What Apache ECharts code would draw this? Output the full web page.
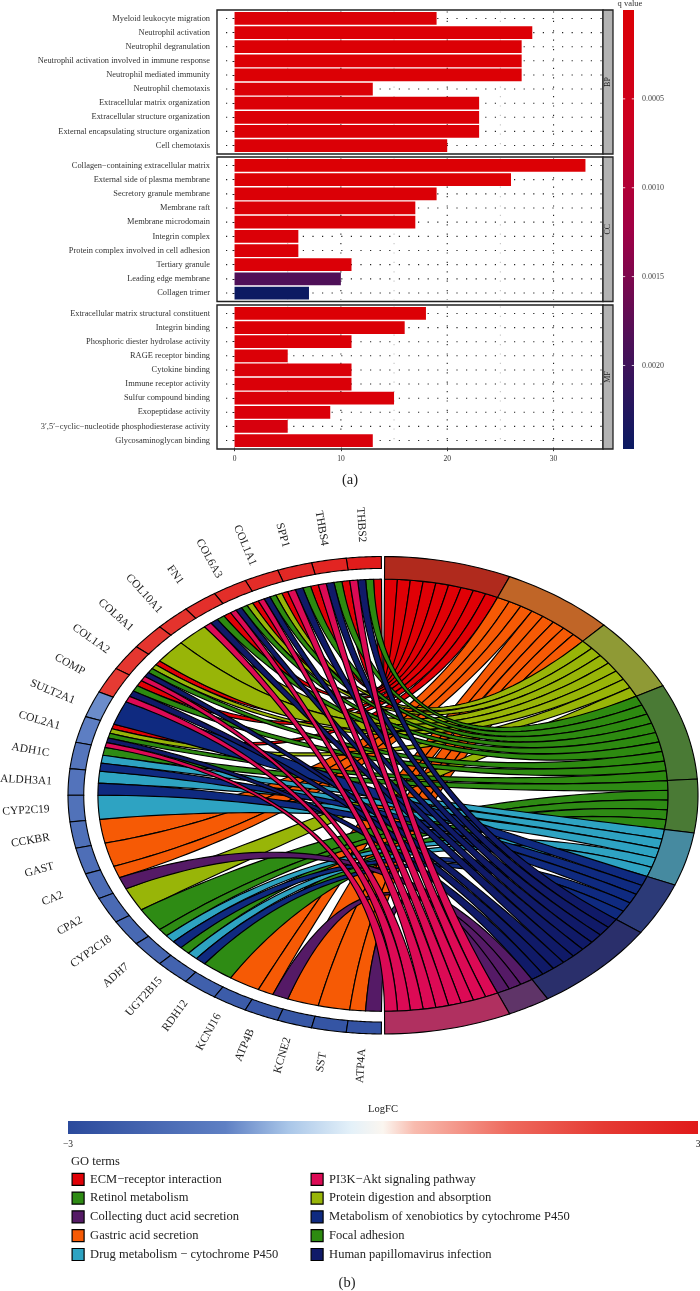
<!DOCTYPE html>
<html><head><meta charset="utf-8">
<style>html,body{margin:0;padding:0;background:#fff}#c{width:700px;height:1291px}</style>
<script src="https://cdn.jsdelivr.net/npm/echarts@6/dist/echarts.min.js"></script>
</head><body><div id="c"></div>
<script>
// ---------- panel (a) data ----------
const bpTerms = ['Myeloid leukocyte migration','Neutrophil activation','Neutrophil degranulation','Neutrophil activation involved in immune response','Neutrophil mediated immunity','Neutrophil chemotaxis','Extracellular matrix organization','Extracellular structure organization','External encapsulating structure organization','Cell chemotaxis'];
const bpCounts = [19,28,27,27,27,13,23,23,23,20];
const bpQ = [0.00002,0.00001,0.00001,0.00001,0.00001,0.00002,0.00002,0.00002,0.00002,0.00003];
const ccTerms = ['Collagen\u2212containing extracellular matrix','External side of plasma membrane','Secretory granule membrane','Membrane raft','Membrane microdomain','Integrin complex','Protein complex involved in cell adhesion','Tertiary granule','Leading edge membrane','Collagen trimer'];
const ccCounts = [33,26,19,17,17,6,6,11,10,7];
const ccQ = [0.00001,0.00001,0.00002,0.00003,0.00003,0.00004,0.00004,0.00005,0.00185,0.00245];
const mfTerms = ['Extracellular matrix structural constituent','Integrin binding','Phosphoric diester hydrolase activity','RAGE receptor binding','Cytokine binding','Immune receptor activity','Sulfur compound binding','Exopeptidase activity','3\u2032,5\u2032\u2212cyclic\u2212nucleotide phosphodiesterase activity','Glycosaminoglycan binding'];
const mfCounts = [18,16,11,5,11,11,15,9,5,13];
const mfQ = [0.00001,0.00002,0.00004,0.00005,0.00006,0.00006,0.00006,0.00008,0.0002,0.00012];
const strips = ['BP','CC','MF'];
const xTicks = [0,10,20,30];
const xMinor = [5,15,25];
const qTicks = [0.0005,0.0010,0.0015,0.0020];
const qColors = ['#dc0005','#cc001f','#a00045','#4f1058','#0a1a62'];

// ---------- panel (b) data ----------
const genes = ['THBS2','THBS4','SPP1','COL1A1','COL6A3','FN1','COL10A1','COL8A1','COL1A2','COMP','SULT2A1','COL2A1','ADH1C','ALDH3A1','CYP2C19','CCKBR','GAST','CA2','CPA2','CYP2C18','ADH7','UGT2B15','RDH12','KCNJ16','ATP4B','KCNE2','SST','ATP4A'];
const logFC = [2.95,2.7,2.6,2.5,2.45,2.4,2.3,2.25,2.2,2.1,-1.4,-1.55,-1.8,-1.85,-1.9,-1.95,-2.0,-2.05,-2.1,-2.15,-2.2,-2.3,-2.4,-2.5,-2.6,-2.65,-2.7,-2.75];
const terms = ['ECM\u2212receptor interaction','Gastric acid secretion','Protein digestion and absorption','Focal adhesion','Retinol metabolism','Drug metabolism \u2212 cytochrome P450','Metabolism of xenobiotics by cytochrome P450','Human papillomavirus infection','Collecting duct acid secretion','PI3K\u2212Akt signaling pathway'];
const termColors = ['#e00006','#f65a05','#98b508','#2d8a10','#2e8b14','#2ea3c2','#0f2a80','#101a68','#551a66','#dc0a55'];
const ringColors = ['#b02a1d','#c06527','#8f9a35','#4a7a35','#4a7a35','#468aa0','#2c3a78','#2a2f6b','#5f3468','#b03060'];
// term index per gene, order along the gene arc (0 ECM,1 Gastric,2 Protein,3 Focal,4 Retinol,5 Drug,6 Metab,7 HPV,8 Collecting,9 PI3K)
const geneLinks = [[0,3,7,9],[0,3,7,9],[0,3,7,9],[0,2,3,7,9],[0,2,3,7,9],[0,3,7,9],[2],[2],[0,2,3,7,9],[0,3,7,9],[6],[0,2,3,7,9],[4,5,6],[5,6],[5],[1],[1],[1,8],[2],[4],[4,5,6],[4,5,6],[4],[1],[1,8],[1],[1],[1,8]];
const legendColA = [0,4,8,1,5];
const legendColB = [9,2,6,3,7];
const fcStops = [[-3,'#2b4a9c'],[-1.5,'#5f80c4'],[-0.9,'#a9c6e8'],[-0.3,'#e4f1f9'],[0,'#fbf6f0'],[0.3,'#f8bbae'],[1.2,'#ee6a5e'],[2.1,'#e53a33'],[3,'#e01a1a']];

// ---------- helpers ----------
const SERIF = '"Liberation Serif","DejaVu Serif",serif';
const hex = c => [1,3,5].map(i => parseInt(c.substr(i,2),16));
function fcColor(v){
  for(let i=1;i<fcStops.length;i++){
    if(v<=fcStops[i][0]){
      const a=fcStops[i-1], b=fcStops[i], t=(v-a[0])/(b[0]-a[0]), A=hex(a[1]), B=hex(b[1]);
      return 'rgb('+A.map((x,k)=>Math.round(x+(B[k]-x)*t)).join(',')+')';
    }
  }
  return fcStops[fcStops.length-1][1];
}
const RAD = Math.PI/180;
const START = 0.3, SPAN = 179.4, R_IN = 0.905, R_GENE = 0.95, R_LABEL = 1.135;
const pt = (deg,r,side) => [side*r*Math.sin(deg*RAD), r*Math.cos(deg*RAD)];

// layout in unit-circle space
const linkCount = terms.map((_,t)=>geneLinks.reduce((s,l)=>s+l.filter(x=>x===t).length,0));
const total = linkCount.reduce((a,b)=>a+b,0);
const unit = SPAN/total;
const termStart = []; { let a=START; linkCount.forEach(n=>{termStart.push(a); a+=n*unit;}); }
const geneArc = SPAN/genes.length;
const ribbons = terms.map(()=>[]);
{
  const used = terms.map(()=>0);
  geneLinks.forEach((list,g)=>{
    const w = geneArc/list.length;
    list.forEach((t,k)=>{
      const ga = START+g*geneArc+k*w;
      const ta = termStart[t]+used[t]*unit;
      ribbons[t].push([ga,ga+w,ta,ta+unit]);
      used[t]++;
    });
  });
}
function ribbonPoints(r){
  const [ga,gb,ta,tb]=r, out=[], N=60, M=6;
  const q=(P,Q,t)=>[(1-t)*(1-t)*P[0]+t*t*Q[0],(1-t)*(1-t)*P[1]+t*t*Q[1]];
  for(let i=0;i<=M;i++) out.push(pt(ga+(gb-ga)*i/M,R_IN,-1));
  const G2=pt(gb,R_IN,-1), T2=pt(tb,R_IN,1), T1=pt(ta,R_IN,1), G1=pt(ga,R_IN,-1);
  for(let i=1;i<N;i++) out.push(q(G2,T2,i/N));
  for(let i=0;i<=M;i++) out.push(pt(tb+(ta-tb)*i/M,R_IN,1));
  for(let i=1;i<N;i++) out.push(q(T1,G1,i/N));
  return out;
}
function arcPoly(a,b,r0,r1,side){
  const out=[],M=16;
  for(let i=0;i<=M;i++) out.push(pt(a+(b-a)*i/M,r1,side));
  for(let i=M;i>=0;i--) out.push(pt(a+(b-a)*i/M,r0,side));
  return out;
}

// ---------- option ----------
const panelFrames = [{top:10,height:144},{top:157,height:144.5},{top:305,height:144}];
const panels = [[bpTerms,bpCounts,bpQ],[ccTerms,ccCounts,ccQ],[mfTerms,mfCounts,mfQ]];
const grid=[], xAxis=[], yAxis=[], series=[], graphic=[];
const barIdx=[];
const PAD=1.41; // ggplot's discrete expansion beyond the ten bands
panels.forEach((p,i)=>{
  const t=panelFrames[i].top,h=panelFrames[i].height;
  graphic.push({type:'rect',z:0,shape:{x:217,y:t,width:386,height:h},style:{fill:'#fff',stroke:'#222',lineWidth:1.4}});
  grid.push({left:217,width:386,top:t+PAD,height:h-2*PAD});
  xAxis.push({type:'value',gridIndex:i,min:-1.65,max:34.65,splitLine:{show:false},axisLine:{show:false},
    axisTick:{show:i===2,length:3.6,customValues:xTicks,lineStyle:{color:'#333'}},
    axisLabel:{show:i===2,customValues:xTicks,fontFamily:SERIF,fontSize:7.5,color:'#333',margin:7}});
  yAxis.push({type:'category',gridIndex:i,inverse:true,data:p[0],axisLine:{show:false},
    axisTick:{show:true,length:2,alignWithLabel:true,lineStyle:{color:'#222'}},splitLine:{show:false},
    axisLabel:{interval:0,fontFamily:SERIF,fontSize:8.4,color:'#333',margin:7}});
  // dotted grid through the axes' own scales
  const vLine=(color)=>(params,api)=>{
    const c=api.coord([api.value(0),0]), cs=params.coordSys;
    return {type:'line',shape:{x1:c[0],y1:cs.y,x2:c[0],y2:cs.y+cs.height},style:{stroke:color,lineWidth:1.1,lineDash:[1.2,8.2]}};
  };
  series.push({type:'custom',xAxisIndex:i,yAxisIndex:i,silent:true,z:1,data:xMinor.map(v=>[v,0]),renderItem:vLine('#c4c4c4'),encode:{x:0,y:1}});
  series.push({type:'custom',xAxisIndex:i,yAxisIndex:i,silent:true,z:1,data:xTicks.slice(1).map(v=>[v,0]),renderItem:vLine('#222'),encode:{x:0,y:1}});
  series.push({type:'custom',xAxisIndex:i,yAxisIndex:i,silent:true,z:1,data:p[0].map((_,k)=>[0,k]),encode:{x:0,y:1},renderItem:(params,api)=>{
    const c=api.coord([0,api.value(1)]), cs=params.coordSys;
    return {type:'line',shape:{x1:cs.x+9,y1:c[1],x2:cs.x+cs.width,y2:c[1]},style:{stroke:'#222',lineWidth:1.1,lineDash:[1.2,8.4]}};
  }});
  barIdx.push(series.length);
  series.push({type:'bar',xAxisIndex:i,yAxisIndex:i,z:2,barWidth:'90%',encode:{x:0,y:1},data:p[1].map((c,k)=>[c,k,p[2][k]])});
  // facet strip
  graphic.push({type:'rect',z:5,shape:{x:603,y:t,width:10,height:h},style:{fill:'#b3b3b3',stroke:'#222',lineWidth:1.3}});
  graphic.push({type:'text',z:6,x:608,y:t+h/2,rotation:Math.PI/2,style:{text:strips[i],font:'8px '+SERIF,fill:'#222',align:'center',verticalAlign:'middle'}});
});

// q value colour bar
let gi=3;
grid.push({left:623,width:11,top:10,height:439});
xAxis.push({type:'value',gridIndex:gi,min:0,max:1,show:false});
yAxis.push({type:'value',gridIndex:gi,min:0,max:0.00247,inverse:true,position:'right',splitLine:{show:false},axisLine:{show:false},axisTick:{show:false},
  axisLabel:{customValues:qTicks,formatter:v=>v.toFixed(4),fontFamily:SERIF,fontSize:8,color:'#444',margin:8}});
series.push({type:'custom',xAxisIndex:gi,yAxisIndex:gi,silent:true,data:[[0,0]],encode:{x:0,y:1},renderItem:(params,api)=>{
  const cs=params.coordSys;
  return {type:'rect',shape:{x:cs.x,y:cs.y,width:cs.width,height:cs.height},style:{fill:new echarts.graphic.LinearGradient(0,0,0,1,qColors.map((c,i)=>({offset:i/(qColors.length-1),color:c})))}};
}});
series.push({type:'custom',xAxisIndex:gi,yAxisIndex:gi,silent:true,z:3,data:qTicks.map(v=>[0,v]),encode:{x:0,y:1},renderItem:(params,api)=>{
  const c=api.coord([0,api.value(1)]), cs=params.coordSys;
  return {type:'group',children:[
    {type:'rect',shape:{x:cs.x,y:c[1]-0.5,width:2.2,height:1},style:{fill:'#fff',opacity:.8}},
    {type:'rect',shape:{x:cs.x+cs.width-2.2,y:c[1]-0.5,width:2.2,height:1},style:{fill:'#fff',opacity:.8}}]};
}});

// chord
gi=4;
grid.push({left:68,width:630,top:556.5,height:477.5});
xAxis.push({type:'value',gridIndex:gi,min:-1,max:1,show:false});
yAxis.push({type:'value',gridIndex:gi,min:-1,max:1,show:false});
const mapPts=(api,pts)=>pts.map(p=>api.coord(p));
terms.forEach((name,t)=>{
  series.push({type:'custom',name,xAxisIndex:gi,yAxisIndex:gi,silent:true,z:3,clip:false,color:termColors[t],
    itemStyle:{color:termColors[t]},encode:{x:1,y:2},
    data:ribbons[t].map((r,i)=>[i,0,0]),
    renderItem:(params,api)=>({type:'polygon',shape:{points:mapPts(api,ribbonPoints(ribbons[t][api.value(0)]))},style:{fill:termColors[t],stroke:'#000',lineWidth:1.15,lineJoin:'round'}})});
});
series.push({type:'custom',xAxisIndex:gi,yAxisIndex:gi,silent:true,z:4,clip:false,encode:{x:1,y:2},data:terms.map((_,i)=>[i,0,0]),renderItem:(params,api)=>{
  const t=api.value(0);
  return {type:'polygon',shape:{points:mapPts(api,arcPoly(termStart[t],termStart[t]+linkCount[t]*unit,R_IN,1,1))},style:{fill:ringColors[t],stroke:'#000',lineWidth:1.1}};
}});
series.push({type:'custom',xAxisIndex:gi,yAxisIndex:gi,silent:true,z:4,clip:false,encode:{x:1,y:2},data:genes.map((_,i)=>[i,0,0]),renderItem:(params,api)=>{
  const g=api.value(0), a=START+g*geneArc;
  const mid=a+geneArc/2, Q=api.coord(pt(mid,R_LABEL,-1));
  return {type:'group',children:[
    {type:'polygon',shape:{points:mapPts(api,arcPoly(a,a+geneArc,R_GENE,1,-1))},style:{fill:fcColor(logFC[g]),stroke:'#000',lineWidth:1.1}},
    {type:'text',x:Q[0],y:Q[1],rotation:-(90-mid)*RAD,style:{text:genes[g],font:'11.5px '+SERIF,fill:'#222',align:'center',verticalAlign:'middle'}}
  ]};
}});

// logFC bar
gi=5;
grid.push({left:68,width:630,top:1121,height:13,outerBoundsMode:'none'});
xAxis.push({type:'value',gridIndex:gi,min:-3,max:3,axisLine:{show:false},axisTick:{show:false},splitLine:{show:false},
  axisLabel:{customValues:[-3,3],formatter:v=>v<0?'\u22123':'3',fontFamily:SERIF,fontSize:9.5,color:'#222',margin:5}});
yAxis.push({type:'value',gridIndex:gi,min:0,max:1,show:false});
series.push({type:'custom',xAxisIndex:gi,yAxisIndex:gi,silent:true,data:[[0,0]],encode:{x:0,y:1},renderItem:(params,api)=>{
  const cs=params.coordSys;
  return {type:'rect',shape:{x:cs.x,y:cs.y,width:cs.width,height:cs.height},style:{fill:new echarts.graphic.LinearGradient(0,0,1,0,fcStops.map(s=>({offset:(s[0]+3)/6,color:s[1]})))}};
}});

const txt=(text,x,y,size,align,fill)=>({type:'text',x,y,style:{text,font:size+'px '+SERIF,fill:fill||'#222',align:align||'center',verticalAlign:'middle'}});
graphic.push(txt('q value',630,3.5,8.5,'center','#333'));
graphic.push(txt('(a)',350,480,14.5));
graphic.push(txt('(b)',347,1283,14.5));
graphic.push(txt('LogFC',383,1109.5,10.5));
graphic.push(txt('GO terms',71,1162,12.5,'left'));

const legendOf=(idx,left)=>({show:true,orient:'vertical',left,top:1172.7,itemWidth:12,itemHeight:12,itemGap:5.6,selectedMode:false,padding:0,
  textStyle:{fontFamily:SERIF,fontSize:12.5,lineHeight:12,color:'#222',padding:[0,0,0,1]},
  data:idx.map(i=>({name:terms[i],icon:'rect',itemStyle:{color:termColors[i],borderColor:'#000',borderWidth:1.2}}))});

const chart=echarts.init(document.getElementById('c'),null,{renderer:'canvas',width:700,height:1291});
chart.setOption({
  animation:false,backgroundColor:'#fff',
  grid,xAxis,yAxis,series,graphic,
  legend:[legendOf(legendColA,71.5),legendOf(legendColB,310.5)],
  visualMap:{show:false,type:'continuous',min:0,max:0.00247,dimension:2,seriesIndex:barIdx,inRange:{color:qColors}}
});
</script>
</body></html>
